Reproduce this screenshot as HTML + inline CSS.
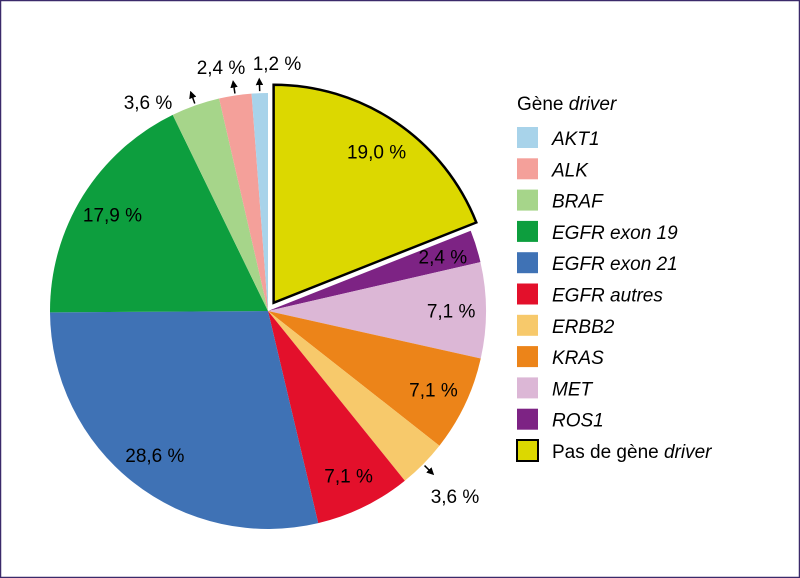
<!DOCTYPE html>
<html><head><meta charset="utf-8"><style>
body{margin:0;background:#fff}
svg{display:block}
text{font-family:"Liberation Sans",sans-serif}
</style></head><body>
<svg id="chart" width="800" height="578" viewBox="0 0 800 578" xmlns="http://www.w3.org/2000/svg">
<rect x="0.5" y="0.5" width="799" height="577" fill="#fff" stroke="#3b2a6a" stroke-width="1.5"/>
<g id="slices"></g><g id="labels"></g><g id="legend"></g>
<defs><marker id="ah" viewBox="0 0 10 10" refX="8" refY="5" markerWidth="5" markerHeight="5" orient="auto"><path d="M0,0L10,5L0,10z" fill="#000"/></marker></defs>
</svg>
<script>
const categories=["Pas de gène driver","ROS1","MET","KRAS","ERBB2","EGFR autres","EGFR exon 21","EGFR exon 19","BRAF","ALK","AKT1"];
const values=[19.0,2.4,7.1,7.1,3.6,7.1,28.6,17.9,3.6,2.4,1.2];
const valueLabels=["19,0 %","2,4 %","7,1 %","7,1 %","3,6 %","7,1 %","28,6 %","17,9 %","3,6 %","2,4 %","1,2 %"];
const colors=["#dcd800","#7d2384","#dcb7d6","#ec8419","#f7c96b","#e3102b","#3f72b5","#0d9e3e","#a6d58a","#f4a09a","#a8d3ea"];
const legendOrder=["AKT1","ALK","BRAF","EGFR exon 19","EGFR exon 21","EGFR autres","ERBB2","KRAS","MET","ROS1","Pas de gène driver"];
const NS="http://www.w3.org/2000/svg";
const cx=268,cy=311,R=218;
const total=values.reduce((a,b)=>a+b,0);
function pt(a,r){return [cx+r*Math.sin(a),cy-r*Math.cos(a)];}
const sg=document.getElementById('slices'),lg=document.getElementById('labels');
let acc=0;
const outer={4:{lx:455,ly:503,arrow:true},8:{lx:148,ly:109,arrow:true},9:{lx:221,ly:74,arrow:true},10:{lx:277,ly:70,arrow:true}};
values.forEach((v,i)=>{
 const a0=acc/total*2*Math.PI;acc+=v;const a1=acc/total*2*Math.PI;const am=(a0+a1)/2;
 const off=i===0?10:0;const ox=off*Math.sin(am),oy=-off*Math.cos(am);
 const p0=pt(a0,R),p1=pt(a1,R);
 const large=(a1-a0)>Math.PI?1:0;
 const p=document.createElementNS(NS,'path');
 p.setAttribute('d',`M${cx+ox},${cy+oy}L${p0[0]+ox},${p0[1]+oy}A${R},${R} 0 ${large} 1 ${p1[0]+ox},${p1[1]+oy}Z`);
 p.setAttribute('fill',colors[i]);
 if(i===0){p.setAttribute('stroke','#000');p.setAttribute('stroke-width','2.5');}
 
 
 sg.appendChild(p);
 const t=document.createElementNS(NS,'text');
 t.setAttribute('font-size','19');t.setAttribute('text-anchor','middle');
 let lx,ly;
 if(outer[i]){
  lx=outer[i].lx;ly=outer[i].ly;
  const s=pt(am,R+2),e=pt(am,R+14);
  const l=document.createElementNS(NS,'line');
  l.setAttribute('x1',s[0]);l.setAttribute('y1',s[1]);l.setAttribute('x2',e[0]);l.setAttribute('y2',e[1]);
  l.setAttribute('stroke','#000');l.setAttribute('stroke-width','1.5');l.setAttribute('marker-end','url(#ah)');
  
  
  lg.appendChild(l);
 } else {const q=pt(am,R*0.84);lx=q[0]+ox;ly=q[1]+oy+7;}
 t.setAttribute('x',lx);t.setAttribute('y',ly);t.textContent=valueLabels[i];
 
 
 lg.appendChild(t);
});
const leg=document.getElementById('legend');
const title=document.createElementNS(NS,'text');
title.setAttribute('x',517);title.setAttribute('y',110);title.setAttribute('font-size','19');
title.innerHTML='Gène <tspan font-style="italic">driver</tspan>';


leg.appendChild(title);
legendOrder.forEach((c,k)=>{
 const i=categories.indexOf(c);const y=127+k*31.3;
 const r=document.createElementNS(NS,'rect');
 r.setAttribute('x',517);r.setAttribute('y',y);r.setAttribute('width',21);r.setAttribute('height',21);r.setAttribute('fill',colors[i]);
 if(i===0){r.setAttribute('stroke','#000');r.setAttribute('stroke-width','2');}
 
 
 leg.appendChild(r);
 const t=document.createElementNS(NS,'text');
 t.setAttribute('x',552);t.setAttribute('y',y+18);t.setAttribute('font-size','19');
 if(i===0)t.innerHTML='Pas de gène <tspan font-style="italic">driver</tspan>';
 else{t.setAttribute('font-style','italic');t.textContent=c;}
 
 
 leg.appendChild(t);
});
</script>
</body></html>
